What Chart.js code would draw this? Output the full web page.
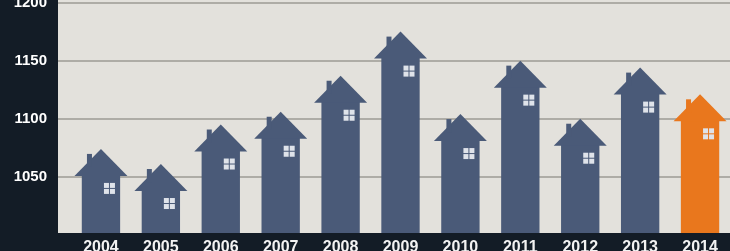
<!DOCTYPE html>
<html>
<head>
<meta charset="utf-8">
<script src="https://cdn.jsdelivr.net/npm/chart.js@4/dist/chart.umd.min.js"></script>
<style>
	html, body { margin: 0; padding: 0; background: #131c26; overflow: hidden; }
	#wrap { position: relative; width: 730px; height: 251px; overflow: hidden; }
	#houses { position: absolute; left: 0; top: 0; }
</style>
</head>
<body>
<div id="wrap"><canvas id="houses" width="730" height="270"></canvas></div>
<script>
// values read at the eaves of each house
var years = ["2004", "2005", "2006", "2007", "2008", "2009", "2010", "2011", "2012", "2013", "2014"];
var values = [1052, 1039, 1073, 1084, 1115, 1153, 1082, 1128, 1078, 1122, 1099];
var yTicks = [1050, 1100, 1150, 1200];

var blue = "#4a5a78";
var orange = "#e9771d";
var colors = years.map(function (y, i) { return i == years.length - 1 ? orange : blue; });

// grey panel + grid lines behind the houses
var backdrop = {
	id: "backdrop",
	beforeDraw: function (chart) {
		var ctx = chart.ctx, area = chart.chartArea, y = chart.scales.y;
		ctx.save();
		ctx.fillStyle = "#131c26";
		ctx.fillRect(0, 0, chart.width, chart.height);
		ctx.fillStyle = "#e3e1dc";
		ctx.fillRect(58, 0, chart.width - 58, area.bottom);
		ctx.strokeStyle = "#aeaca6";
		ctx.lineWidth = 2;
		yTicks.forEach(function (v) {
			var py = Math.round(y.getPixelForValue(v));
			ctx.beginPath();
			ctx.moveTo(58, py);
			ctx.lineTo(chart.width, py);
			ctx.stroke();
		});
		ctx.restore();
	}
};

// roof, chimney and window on top of each bar
var roofs = {
	id: "roofs",
	afterDatasetsDraw: function (chart) {
		var ctx = chart.ctx;
		var bars = chart.getDatasetMeta(0).data;
		ctx.save();
		bars.forEach(function (bar, i) {
			var cx = bar.x, e = bar.y;
			ctx.fillStyle = colors[i];
			ctx.beginPath();
			ctx.moveTo(cx - 26.5, e + 1);
			ctx.lineTo(cx, e - 26);
			ctx.lineTo(cx + 26.5, e + 1);
			ctx.closePath();
			ctx.fill();
			ctx.fillRect(cx - 14, e - 21, 5, 13);
			ctx.fillStyle = "#dfe3ea";
			ctx.fillRect(cx + 3, e + 8, 5, 5);
			ctx.fillRect(cx + 9, e + 8, 5, 5);
			ctx.fillRect(cx + 3, e + 14, 5, 5);
			ctx.fillRect(cx + 9, e + 14, 5, 5);
		});
		ctx.restore();
	}
};

var data = {
	labels: years,
	datasets: [
		{
			data: values,
			backgroundColor: colors,
			borderWidth: 0,
			barPercentage: 0.64,
			categoryPercentage: 1
		}
	]
};

var options = {
	responsive: false,
	animation: false,
	layout: { padding: { top: 3, left: 0, right: 0, bottom: 0 } },
	plugins: {
		legend: { display: false },
		tooltip: { enabled: false }
	},
	scales: {
		x: {
			grid: { display: false, drawTicks: false },
			border: { display: false },
			ticks: { color: "#f2f2f2", padding: 5, font: { family: "Liberation Sans", size: 16, weight: "bold" } },
			afterFit: function (scale) { scale.height = 37; }
		},
		y: {
			min: 1002,
			max: 1200,
			grid: { display: false, drawTicks: false },
			border: { display: false },
			ticks: {
				color: "#ffffff",
				padding: 24,
				font: { family: "Liberation Sans", size: 15, weight: "bold" },
				callback: function (v) { return String(v); }
			},
			afterBuildTicks: function (scale) {
				scale.ticks = yTicks.map(function (v) { return { value: v }; });
			},
			afterFit: function (scale) {
				scale.width = 71;
				scale.paddingTop = 0;
				scale.paddingBottom = 0;
			}
		}
	}
};

var chart = new Chart(document.getElementById("houses"), {
	type: "bar",
	data: data,
	options: options,
	plugins: [backdrop, roofs]
});
</script>
</body>
</html>
